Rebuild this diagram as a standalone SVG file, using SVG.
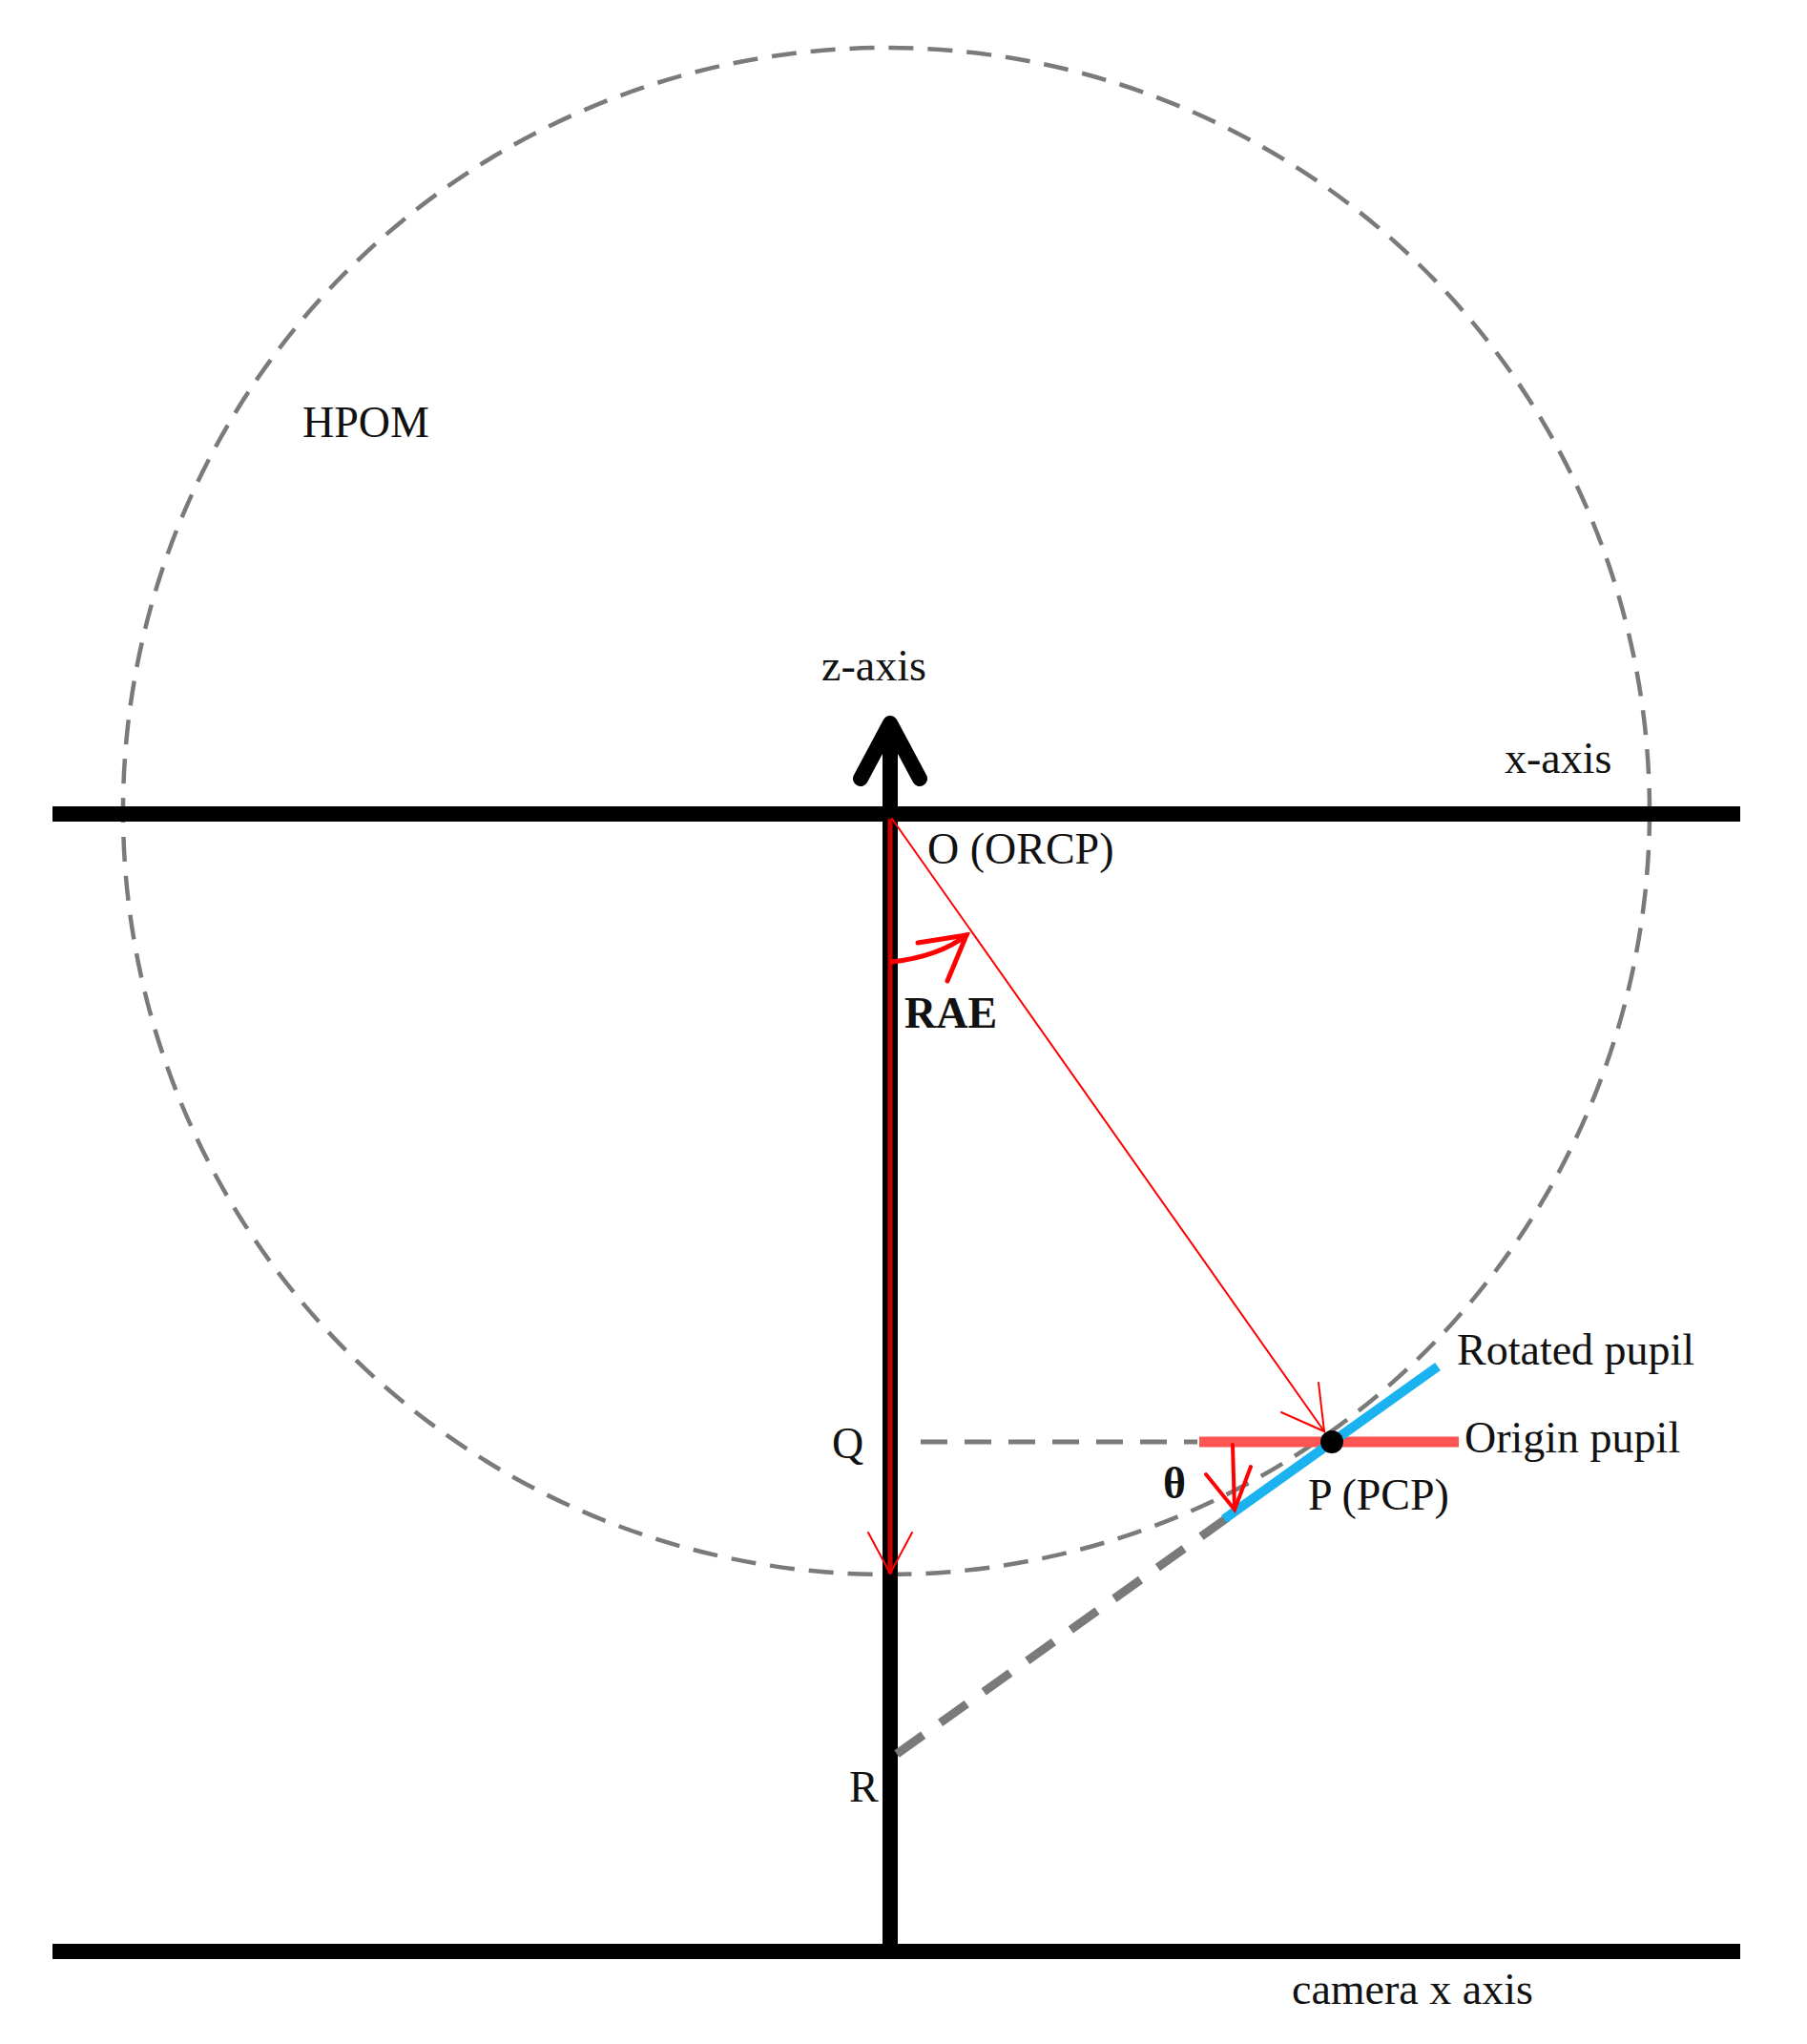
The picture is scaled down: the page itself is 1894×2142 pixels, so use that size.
<svg xmlns="http://www.w3.org/2000/svg" width="1894" height="2142" viewBox="0 0 1894 2142">
<style>
text{font-family:"Liberation Serif","Times New Roman",serif;font-size:46px;fill:#111}
.ax{stroke:#000;stroke-width:16;fill:none}
.red{stroke:#f00;fill:none;stroke-linecap:round}
.gd{stroke:#7a7a7a;fill:none}
</style>
<rect width="1894" height="2142" fill="#fff"/>
<g id="hpom">
<circle cx="929" cy="850" r="800" class="gd" stroke-width="4.5" stroke-dasharray="26 15"/>
<text x="317" y="458">HPOM</text>
</g>
<g id="axes">
<line x1="55" y1="853" x2="1824" y2="853" class="ax"/>
<line x1="55" y1="2045" x2="1824" y2="2045" class="ax"/>
<line x1="933" y1="760" x2="933" y2="2045" class="ax"/>
<polyline points="902,816 933,758 964,816" class="ax" stroke-linecap="round" stroke-linejoin="round" stroke-width="14"/>
<text x="861" y="713">z-axis</text>
<text x="1577" y="810">x-axis</text>
<text x="1354" y="2100">camera x axis</text>
</g>
<g id="connectors">
<line x1="933" y1="858" x2="933" y2="1649" stroke="#c00" stroke-width="5"/>
<polyline points="910,1606 933,1649 956,1606" class="red" stroke-width="2"/>
<line x1="935" y1="858" x2="1388" y2="1500" class="red" stroke-width="2"/>
<polyline points="1343,1480 1388,1500 1382,1449" class="red" stroke-width="2"/>
<path d="M935,1008 Q985,1002 1013,980" class="red" stroke-width="5"/>
<polyline points="962,988 1013,980 993,1028" class="red" stroke-width="5"/>
<line x1="965" y1="1511" x2="1255" y2="1511" class="gd" stroke-width="5" stroke-dasharray="28 18"/>
<line x1="940" y1="1838" x2="1290" y2="1588" class="gd" stroke-width="9" stroke-dasharray="34 22"/>
</g>
<g id="pupil">
<line x1="1257" y1="1511" x2="1529" y2="1511" stroke="#f55" stroke-width="11"/>
<line x1="1283" y1="1592" x2="1507" y2="1432" stroke="#1ab2ef" stroke-width="10"/>
<circle cx="1396" cy="1511" r="12" fill="#000"/>
<path d="M1292,1514 L1294,1582" class="red" stroke-width="4"/>
<polyline points="1264,1545 1294,1582 1311,1537" class="red" stroke-width="4"/>
<text x="1219" y="1570" font-weight="bold" font-size="36">θ</text>
<text x="1527" y="1430">Rotated pupil</text>
<text x="1535" y="1522">Origin pupil</text>
<text x="1371" y="1582">P (PCP)</text>
</g>
<g id="labels">
<text x="972" y="905">O (ORCP)</text>
<text x="948" y="1077" font-weight="bold">RAE</text>
<text x="872" y="1528">Q</text>
<text x="890" y="1888">R</text>
</g>
</svg>
